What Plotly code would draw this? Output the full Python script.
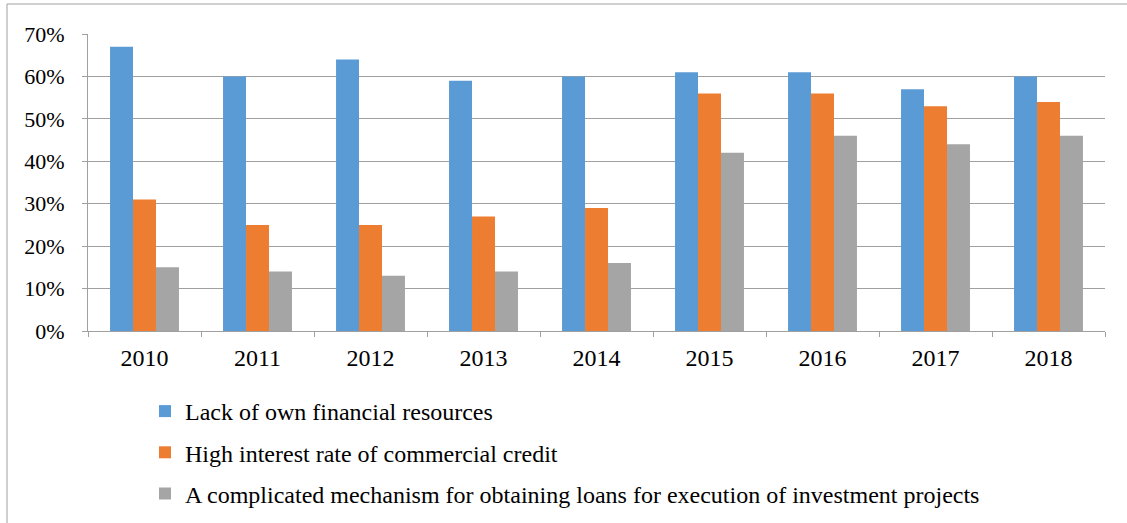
import plotly.graph_objects as go

years = ["2010", "2011", "2012", "2013", "2014", "2015", "2016", "2017", "2018"]
lack_own = [0.67, 0.60, 0.64, 0.59, 0.60, 0.61, 0.61, 0.57, 0.60]
high_rate = [0.31, 0.25, 0.25, 0.27, 0.29, 0.56, 0.56, 0.53, 0.54]
complicated = [0.15, 0.14, 0.13, 0.14, 0.16, 0.42, 0.46, 0.44, 0.46]

names = ["Lack of own financial resources",
         "High interest rate of commercial credit",
         "A complicated mechanism for obtaining loans for execution of investment projects"]
colors = ["#5B9BD5", "#ED7D31", "#A5A5A5"]

fig = go.Figure()
for i, (nm, vals, c) in enumerate(zip(names, [lack_own, high_rate, complicated], colors)):
    fig.add_trace(go.Bar(x=years, y=vals, name=nm, marker_color=c,
                         marker_line_width=0, legendgroup=f"g{i}"))

W, H = 1127, 523
L, R, T, B = 88, 22, 34, 192
pw = W - L - R
ph = H - T - B

def px_x(p):
    return (p - L) / pw

def px_y(p):
    return (H - B - p) / ph

fig.update_layout(
    width=W, height=H,
    margin=dict(l=L, r=R, t=T, b=B, autoexpand=False),
    paper_bgcolor="white", plot_bgcolor="white",
    font=dict(family="Liberation Serif, Times New Roman, serif", size=22, color="black"),
    barmode="group", bargap=0.39, bargroupgap=0,
    showlegend=True,
    legend=dict(orientation="v", x=px_x(145), y=px_y(389), xanchor="left", yanchor="top",
                font=dict(size=24), tracegroupgap=7, traceorder="grouped",
                bgcolor="rgba(0,0,0,0)"),
    xaxis=dict(showline=True, linecolor="#A0A0A0", linewidth=1, ticks="outside",
               tickson="boundaries", ticklen=5, tickcolor="#A0A0A0", showgrid=False,
               tickfont=dict(size=24), ticklabelstandoff=5),
    yaxis=dict(range=[0, 0.7], dtick=0.1, tickformat=".0%", showgrid=True,
               gridcolor="#A0A0A0", gridwidth=1, showline=True, linecolor="#A0A0A0",
               linewidth=1, zeroline=False, ticks="outside", ticklen=5,
               tickcolor="#A0A0A0", tickfont=dict(size=22), ticklabelstandoff=13),
    shapes=[
        dict(type="line", xref="paper", yref="paper", x0=px_x(7), x1=px_x(1130),
             y0=px_y(4), y1=px_y(4), line=dict(color="#A0A0A0", width=1)),
        dict(type="line", xref="paper", yref="paper", x0=px_x(7), x1=px_x(7),
             y0=px_y(4), y1=px_y(530), line=dict(color="#A0A0A0", width=1)),
    ],
)

fig.write_html("out.html")
